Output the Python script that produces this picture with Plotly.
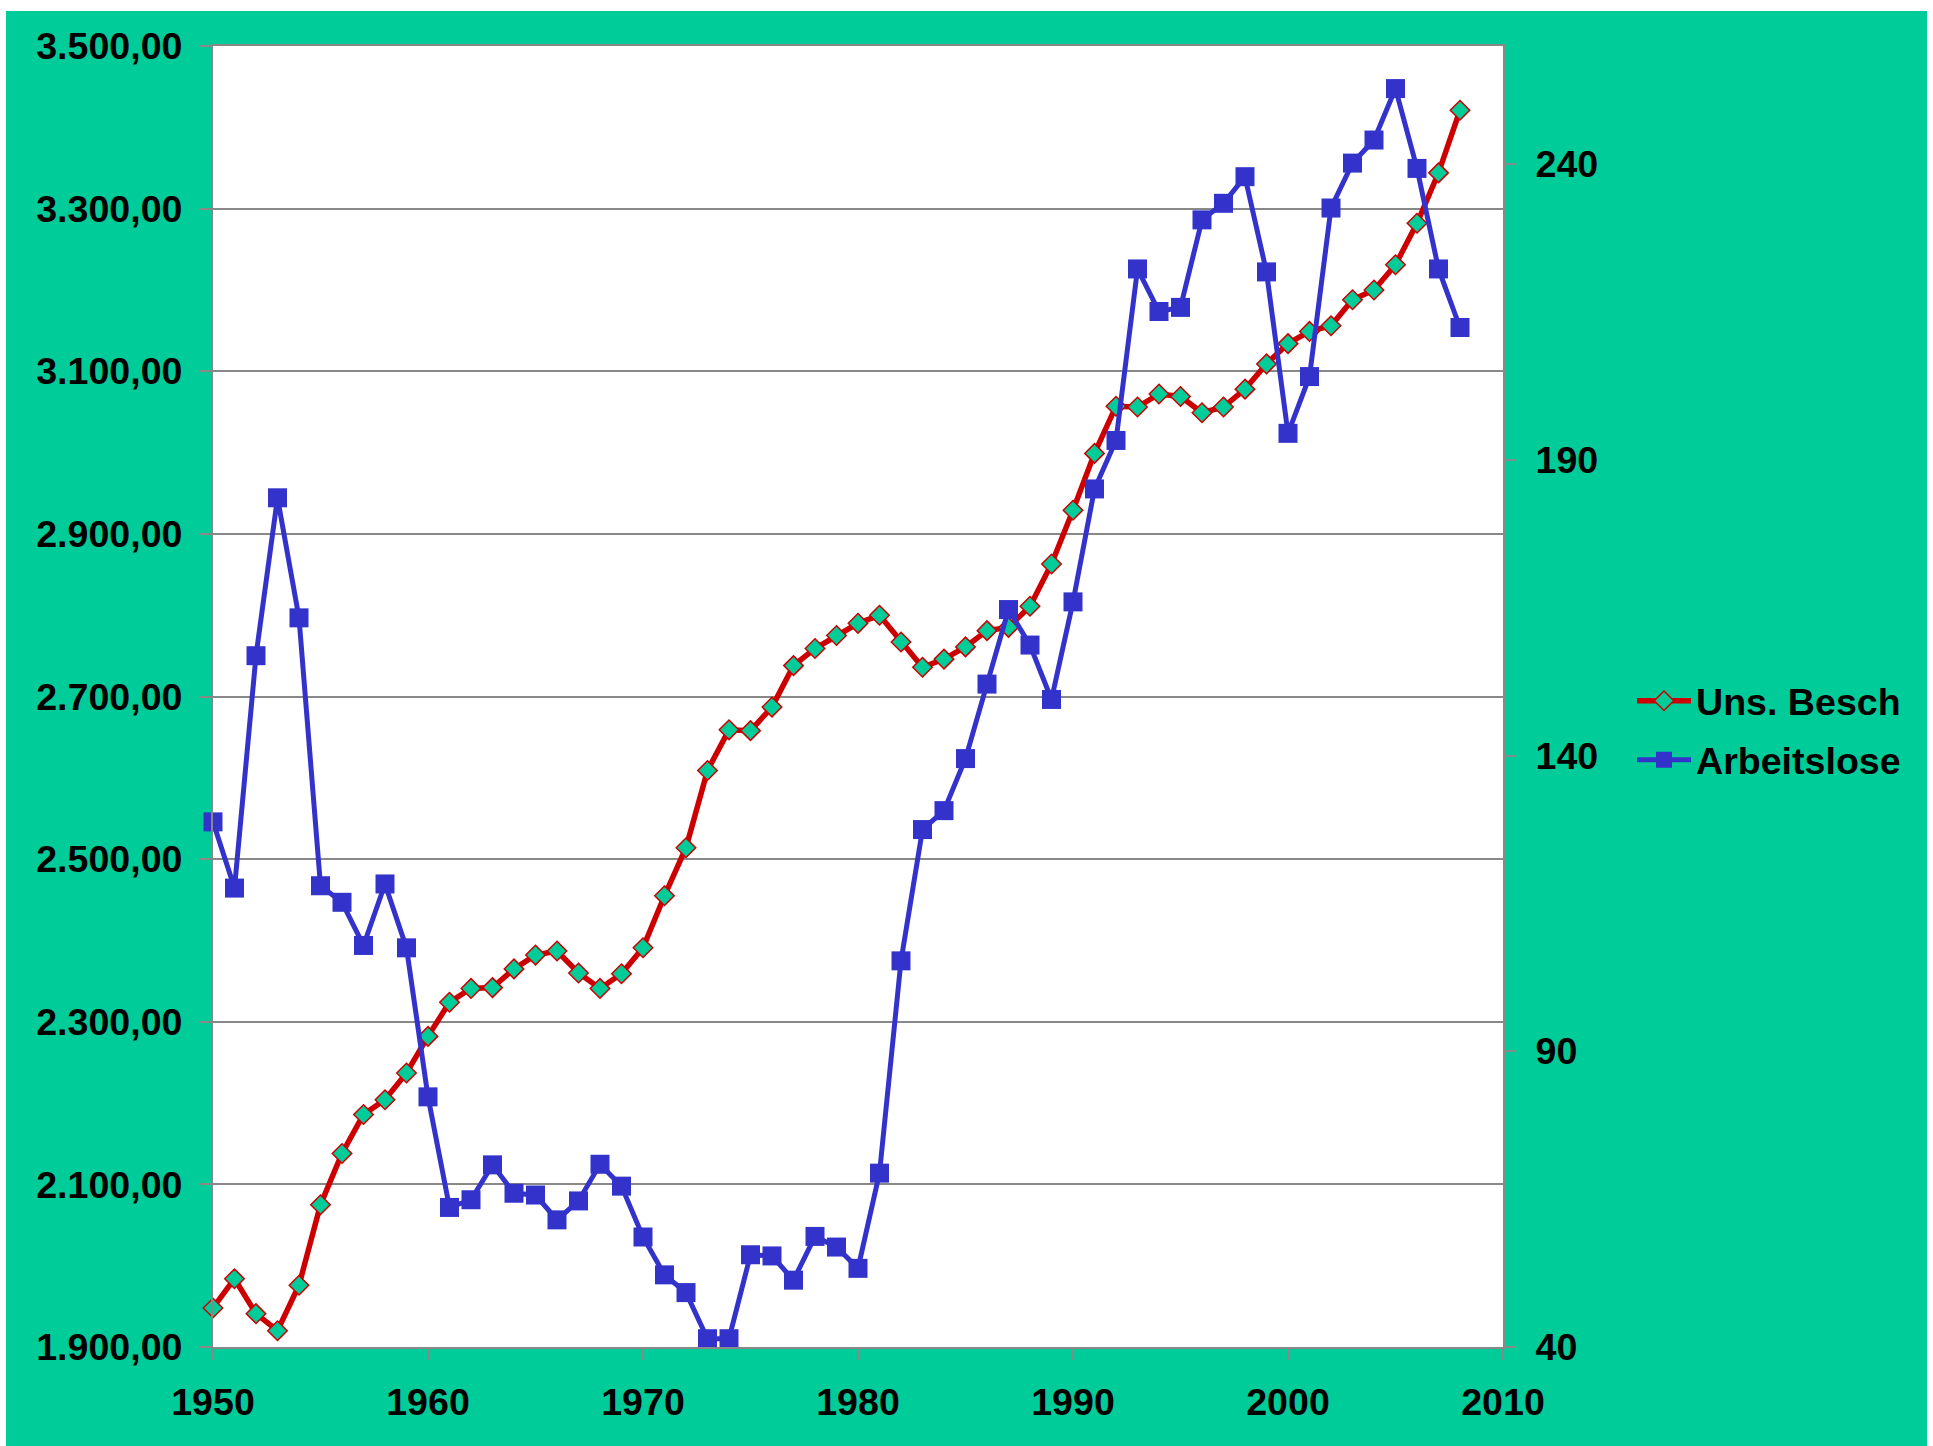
import plotly.graph_objects as go

years = list(range(1950, 2009))

uns_besch = [
    1948, 1984, 1941, 1920, 1976, 2075, 2138, 2186, 2204, 2237,
    2282, 2324, 2341, 2342, 2365, 2382, 2387, 2360, 2341, 2359,
    2391, 2455, 2514, 2609, 2659, 2658, 2687, 2738, 2759, 2775,
    2790, 2800, 2767, 2736, 2746, 2761, 2781, 2785, 2811, 2863,
    2929, 2999, 3057, 3056, 3072, 3069, 3049, 3056, 3078, 3109,
    3134, 3149, 3156, 3188, 3200, 3231, 3282, 3344, 3421,
]

arbeitslose = [
    128.8, 117.6, 156.9, 183.6, 163.3, 118.0, 115.2, 107.9, 118.3, 107.5,
    82.3, 63.6, 64.9, 70.8, 66.0, 65.7, 61.5, 64.7, 70.9, 67.2,
    58.6, 52.2, 49.2, 41.4, 41.4, 55.6, 55.4, 51.3, 58.7, 56.9,
    53.3, 69.4, 105.3, 127.5, 130.7, 139.5, 152.1, 164.7, 158.7, 149.5,
    166.0, 185.1, 193.3, 222.3, 215.1, 215.8, 230.6, 233.4, 237.9, 221.8,
    194.5, 204.1, 232.6, 240.2, 244.1, 252.8, 239.3, 222.3, 212.4,
]

left_ticks = [1900, 2100, 2300, 2500, 2700, 2900, 3100, 3300, 3500]
right_ticks = [40, 90, 140, 190, 240]
x_ticks = [1950, 1960, 1970, 1980, 1990, 2000, 2010]

BG = "#00CC99"
GRID = "#888888"
FONT = dict(family="Liberation Sans, Arial, sans-serif", size=37.6, color="black", weight="bold")

fig = go.Figure()
fig.add_trace(go.Scatter(
    x=years, y=uns_besch, name="Uns. Besch", mode="lines+markers",
    line=dict(color="#CC0000", width=5.5),
    marker=dict(symbol="diamond", size=15, color=BG, line=dict(color="#CC0000", width=1.5)),
    cliponaxis=False, yaxis="y", legendgroup="a",
))
fig.add_trace(go.Scatter(
    x=years, y=arbeitslose, name="Arbeitslose", mode="lines+markers",
    line=dict(color="#3333CC", width=5),
    marker=dict(symbol="square", size=19, color="#3333CC", line=dict(width=0)),
    cliponaxis=False, yaxis="y2", legendgroup="b",
))

W, H = 1921, 1435
L, R, T, B = 207, 424, 35, 99

fig.update_layout(
    width=W, height=H,
    margin=dict(l=L, r=R, t=T, b=B, pad=0),
    paper_bgcolor=BG, plot_bgcolor="white",
    font=FONT,
    separators=",.",
    showlegend=True,
    legend=dict(
        x=1.1, xanchor="left", y=0.474, yanchor="middle",
        bgcolor="rgba(0,0,0,0)", borderwidth=0,
        font=FONT, traceorder="grouped", tracegroupgap=7,
        itemwidth=54,
    ),
    xaxis=dict(
        range=[1950, 2010], tickvals=x_ticks, tickformat="d",
        showgrid=False, zeroline=False,
        showline=True, linecolor=GRID, linewidth=2, mirror=True,
        ticks="outside", ticklen=11, tickcolor=GRID, tickwidth=2,
        ticklabelstandoff=10,
    ),
    yaxis=dict(
        range=[1900, 3500], tickvals=left_ticks, tickformat=",.2f",
        showgrid=True, gridcolor=GRID, gridwidth=2, zeroline=False,
        showline=True, linecolor=GRID, linewidth=2, mirror=True,
        ticks="outside", ticklen=11, tickcolor=GRID, tickwidth=2,
        ticklabelstandoff=10,
    ),
    yaxis2=dict(
        range=[40, 260], tickvals=right_ticks, overlaying="y", side="right",
        showgrid=False, zeroline=False,
        showline=True, linecolor=GRID, linewidth=2,
        ticks="outside", ticklen=11, tickcolor=GRID, tickwidth=2,
        ticklabelstandoff=12,
    ),
)

fig.write_html(
    "out.html",
    post_script="document.body.style.margin='11px 6px 0 6px';document.body.style.overflow='hidden';",
)
